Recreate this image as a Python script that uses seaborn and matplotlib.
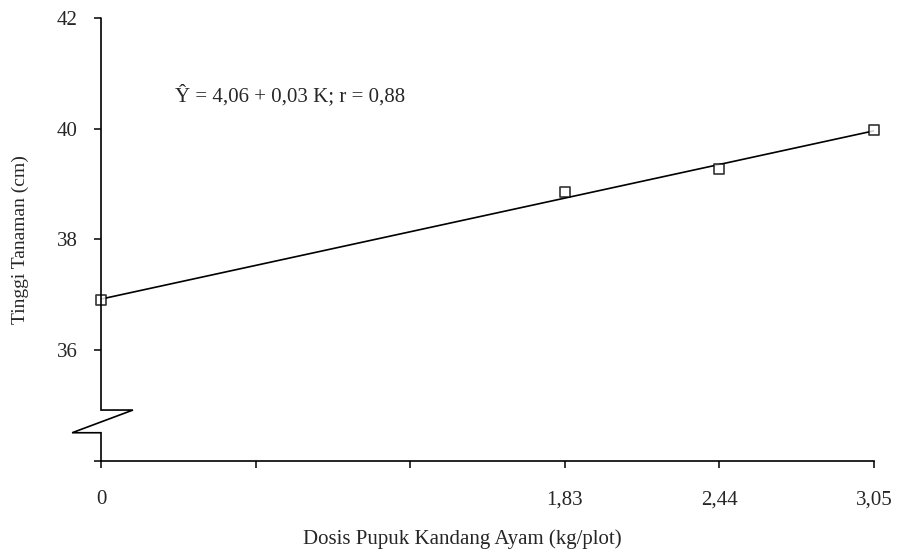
import matplotlib
matplotlib.use("Agg")
import matplotlib.pyplot as plt
import seaborn as sns
import pandas as pd

# Data
dosis = [0.0, 1.83, 2.44, 3.05]
tinggi = [36.90, 38.85, 39.27, 39.97]
x_ticks = [0.0, 0.61, 1.22, 1.83, 2.44, 3.05]
x_ticklabels = ["0", "", "", "1,83", "2,44", "3,05"]
y_ticks = [34, 36, 38, 40, 42]
y_ticklabels = ["", "36", "38", "40", "42"]
equation = "Ŷ = 4,06 + 0,03 K; r = 0,88"

sns.set_theme(style="white")
plt.rcParams["font.family"] = ["Liberation Serif", "DejaVu Serif"]

df = pd.DataFrame({"Dosis": dosis, "Tinggi": tinggi})

fig = plt.figure(figsize=(8.97, 5.56), dpi=100)
ax = fig.add_axes([0.1126, 0.1709, 0.8618, 0.7967])

sns.regplot(data=df, x="Dosis", y="Tinggi", ci=None, ax=ax, truncate=True,
            marker="s",
            scatter_kws=dict(s=55, facecolors="white", edgecolors="black", linewidths=1.2,
                             zorder=3, clip_on=False),
            line_kws=dict(color="black", lw=1.2, zorder=2))

ax.set_xlim(0, 3.05)
ax.set_ylim(34, 42)
ax.set_xticks(x_ticks)
ax.set_xticklabels(x_ticklabels, fontsize=15)
ax.set_yticks(y_ticks)
ax.set_yticklabels(y_ticklabels, fontsize=15)
ax.tick_params(axis="both", direction="out", length=5, width=1.1, color="black",
               bottom=True, left=True)
ax.tick_params(axis="x", pad=16)
ax.tick_params(axis="y", pad=12)

for s in ["top", "right", "left"]:
    ax.spines[s].set_visible(False)
ax.spines["bottom"].set_color("black")
ax.spines["bottom"].set_linewidth(1.2)

# Broken y-axis drawn manually
xs = [0, 0, 0.126, -0.114, 0, 0]
ys = [42, 34.92, 34.92, 34.51, 34.51, 34]
ax.plot(xs, ys, color="black", lw=1.2, clip_on=False, zorder=4, solid_joinstyle="miter")

ax.text(0.29, 40.6, equation, fontsize=15, va="center", ha="left")

ax.set_xlabel("Dosis Pupuk Kandang Ayam (kg/plot)", fontsize=15, labelpad=14)
ax.xaxis.set_label_coords(0.467, -0.155)
ax.set_ylabel("Tinggi Tanaman (cm)", fontsize=14, labelpad=20)
ax.grid(False)

fig.savefig("out.png", dpi=100)
